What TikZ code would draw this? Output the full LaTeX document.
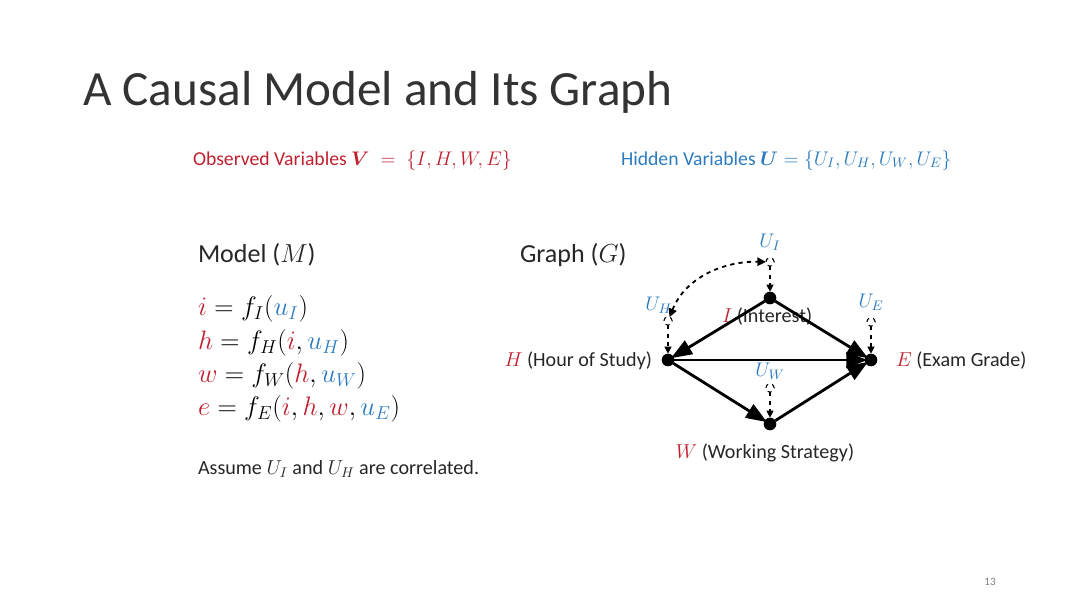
\documentclass[tikz,border=0pt]{standalone}
\usepackage{fix-cm}
\usepackage{amsmath}
\usepackage{fontspec}
\setmainfont{Carlito}
\usetikzlibrary{arrows.meta, positioning}
\definecolor{obsred}{HTML}{C0202E}
\definecolor{hidblue}{HTML}{2B7BC0}
\newcommand{\obsv}[1]{{\color{obsred}#1}}
\newcommand{\hidv}[1]{{\color{hidblue}#1}}

\begin{document}
\begin{tikzpicture}[
    x=0.025cm, y=-0.025cm,
    every node/.style={inner sep=0pt, outer sep=0pt},
    title/.style={anchor=base west, font=\fontsize{35}{42}\selectfont, text=black!80},
    heading/.style={anchor=base west, font=\fontsize{14}{17}\selectfont},
    label/.style={anchor=base west, font=\fontsize{18.5}{22}\selectfont, text=black!85},
    equation/.style={anchor=base west, font=\fontsize{19}{23}\selectfont},
    note/.style={anchor=base west, font=\fontsize{14.3}{17}\selectfont, text=black!85},
    varname/.style={font=\fontsize{14.3}{17}\selectfont, text=black!85},
    ulabel/.style={font=\fontsize{14}{17}\selectfont, text=hidblue},
    observed/.style={circle, fill=black, minimum size=9pt},
    hidden/.style={circle, draw=black, dashed, thick, fill=white, minimum size=6pt},
    cause/.style={-{Triangle[length=15pt, width=11pt]}, line width=2pt, shorten >=-2pt},
    noise/.style={-{Triangle[length=5pt, width=5pt]}, dashed, thick},
    correlated/.style={{Triangle[length=6pt, width=6pt]}-{Triangle[length=6pt, width=6pt]}, dashed, line width=1.3pt}
]
\useasboundingbox (0,0) rectangle (1080,607);

% title and variable sets
\node[title] (heading) at (83,105) {A Causal Model and Its Graph};
\node[heading, text=obsred] (obsset) at (193,165) {Observed Variables $\boldsymbol{V} \;=\; \{I, H, W, E\}$};
\node[heading, text=hidblue] (hidset) at (621,165) {Hidden Variables $\boldsymbol{U} = \{U_I, U_H, U_W, U_E\}$};

% structural equations
\node[label] (model) at (198,262) {Model ($M$)};
\node[equation] (eqi) at (198,315) {$\obsv{i} = f_I(\hidv{u_I})$};
\node[equation] (eqh) at (198,349) {$\obsv{h} = f_H(\obsv{i}, \hidv{u_H})$};
\node[equation] (eqw) at (198,382) {$\obsv{w} = f_W(\obsv{h}, \hidv{u_W})$};
\node[equation] (eqe) at (198,415) {$\obsv{e} = f_E(\obsv{i}, \obsv{h}, \obsv{w}, \hidv{u_E})$};
\node[note] (assume) at (198,474) {Assume $U_I$ and $U_H$ are correlated.};

% causal graph
\node[label] (graph) at (520,262) {Graph ($G$)};
\node[observed] (I) at (770,298) {};
\node[observed] (H) at (668,360) {};
\node[observed] (E) at (871,360) {};
\node[observed] (W) at (770,424) {};
\node[hidden] (uI) at (770,262) {};
\node[hidden] (uH) at (668,321) {};
\node[hidden] (uE) at (871,322) {};
\node[hidden] (uW) at (770,388) {};

\node[ulabel, above=5pt of uI] (lI) {$U_I$};
\node[ulabel, above left=3pt and -5pt of uH] (lH) {$U_H$};
\node[ulabel, above=5pt of uE] (lE) {$U_E$};
\node[ulabel, above=3pt of uW] (lW) {$U_W$};

\node[varname, anchor=base east] (nH) at (652,366) {$\obsv{H}$ (Hour of Study)};
\node[varname, anchor=base west] (nE) at (896,366) {$\obsv{E}$ (Exam Grade)};
\node[varname, anchor=base] (nW) at (765,458) {$\obsv{W}$ (Working Strategy)};
\node[varname, anchor=base west] (nI) at (722,322) {$\obsv{I}$ (Interest)};

\draw[cause] (I) -- (H);
\draw[cause] (I) -- (E);
\draw[cause] (H) -- (E);
\draw[cause] (H) -- (W);
\draw[cause] (W) -- (E);

\draw[noise] (uI) -- (I);
\draw[noise] (uH) -- (H);
\draw[noise] (uE) -- (E);
\draw[noise] (uW) -- (W);
\draw[correlated] (uH) .. controls (686,276) and (726,261) .. (uI);

\node[font=\fontsize{8}{10}\selectfont, text=black!50, anchor=base] (page) at (990,585) {13};
\end{tikzpicture}
\end{document}
